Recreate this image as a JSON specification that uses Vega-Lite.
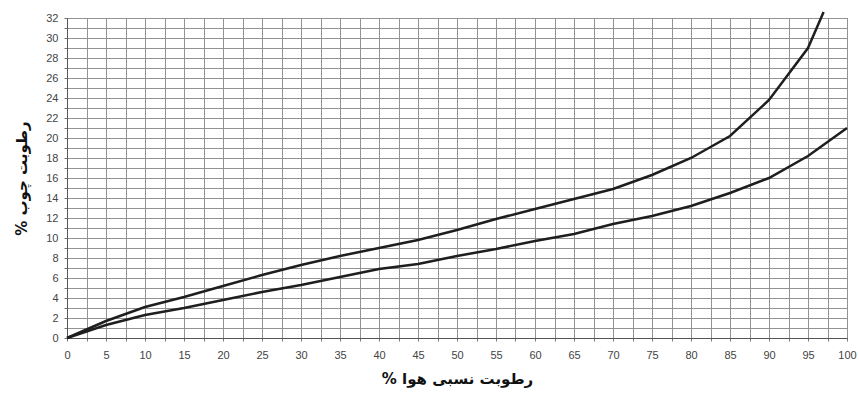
{
  "$schema": "https://vega.github.io/schema/vega-lite/v6.json",
  "width": 780,
  "height": 320,
  "autosize": {"type": "none"},
  "padding": {"left": 67, "top": 18, "right": 12, "bottom": 62},
  "background": "white",
  "config": {
    "view": {"stroke": "#555", "strokeWidth": 1},
    "axis": {
      "labelFont": "Liberation Sans",
      "labelFontSize": 11,
      "labelColor": "#444",
      "gridColor": "#929292",
      "gridOpacity": 1,
      "gridWidth": 1,
      "domainColor": "#555",
      "tickColor": "#777",
      "tickSize": 3,
      "titleFont": "DejaVu Sans",
      "titleFontWeight": "bold",
      "titleFontSize": 15,
      "titleColor": "#111"
    }
  },
  "data": {
    "values": [
      {"rh": 0, "mc": 0, "curve": "upper"},
      {"rh": 5, "mc": 1.7, "curve": "upper"},
      {"rh": 10, "mc": 3.1, "curve": "upper"},
      {"rh": 15, "mc": 4.1, "curve": "upper"},
      {"rh": 20, "mc": 5.2, "curve": "upper"},
      {"rh": 25, "mc": 6.3, "curve": "upper"},
      {"rh": 30, "mc": 7.3, "curve": "upper"},
      {"rh": 35, "mc": 8.2, "curve": "upper"},
      {"rh": 40, "mc": 9.0, "curve": "upper"},
      {"rh": 45, "mc": 9.8, "curve": "upper"},
      {"rh": 50, "mc": 10.8, "curve": "upper"},
      {"rh": 55, "mc": 11.9, "curve": "upper"},
      {"rh": 60, "mc": 12.9, "curve": "upper"},
      {"rh": 65, "mc": 13.9, "curve": "upper"},
      {"rh": 70, "mc": 14.9, "curve": "upper"},
      {"rh": 75, "mc": 16.3, "curve": "upper"},
      {"rh": 80, "mc": 18.0, "curve": "upper"},
      {"rh": 85, "mc": 20.2, "curve": "upper"},
      {"rh": 90, "mc": 23.8, "curve": "upper"},
      {"rh": 95, "mc": 29.0, "curve": "upper"},
      {"rh": 97, "mc": 32.6, "curve": "upper"},
      {"rh": 0, "mc": 0, "curve": "lower"},
      {"rh": 5, "mc": 1.3, "curve": "lower"},
      {"rh": 10, "mc": 2.3, "curve": "lower"},
      {"rh": 15, "mc": 3.0, "curve": "lower"},
      {"rh": 20, "mc": 3.8, "curve": "lower"},
      {"rh": 25, "mc": 4.6, "curve": "lower"},
      {"rh": 30, "mc": 5.3, "curve": "lower"},
      {"rh": 35, "mc": 6.1, "curve": "lower"},
      {"rh": 40, "mc": 6.9, "curve": "lower"},
      {"rh": 45, "mc": 7.4, "curve": "lower"},
      {"rh": 50, "mc": 8.2, "curve": "lower"},
      {"rh": 55, "mc": 8.9, "curve": "lower"},
      {"rh": 60, "mc": 9.7, "curve": "lower"},
      {"rh": 65, "mc": 10.4, "curve": "lower"},
      {"rh": 70, "mc": 11.4, "curve": "lower"},
      {"rh": 75, "mc": 12.2, "curve": "lower"},
      {"rh": 80, "mc": 13.2, "curve": "lower"},
      {"rh": 85, "mc": 14.5, "curve": "lower"},
      {"rh": 90, "mc": 16.0, "curve": "lower"},
      {"rh": 95, "mc": 18.2, "curve": "lower"},
      {"rh": 100, "mc": 21.0, "curve": "lower"}
    ]
  },
  "mark": {"type": "line", "color": "#1e1e1e", "strokeWidth": 2.5, "clip": false},
  "encoding": {
    "x": {
      "field": "rh",
      "type": "quantitative",
      "scale": {"domain": [0, 100], "nice": false, "zero": false},
      "axis": {
        "title": "\u200Fرطوبت نسبی هوا %\u200F",
        "values": [0,2.5,5,7.5,10,12.5,15,17.5,20,22.5,25,27.5,30,32.5,35,37.5,40,42.5,45,47.5,50,52.5,55,57.5,60,62.5,65,67.5,70,72.5,75,77.5,80,82.5,85,87.5,90,92.5,95,97.5,100],
        "labelExpr": "datum.value % 5 == 0 ? datum.label : ''",
        "labelPadding": 8,
        "titlePadding": 11,
        "labelFlush": false
      }
    },
    "y": {
      "field": "mc",
      "type": "quantitative",
      "scale": {"domain": [0, 32], "nice": false},
      "axis": {
        "title": "\u200Fرطوبت چوب %\u200F",
        "values": [0,1,2,3,4,5,6,7,8,9,10,11,12,13,14,15,16,17,18,19,20,21,22,23,24,25,26,27,28,29,30,31,32],
        "labelExpr": "datum.value % 2 == 0 ? datum.label : ''",
        "labelPadding": 6,
        "titlePadding": 16
      }
    },
    "detail": {"field": "curve"}
  }
}
